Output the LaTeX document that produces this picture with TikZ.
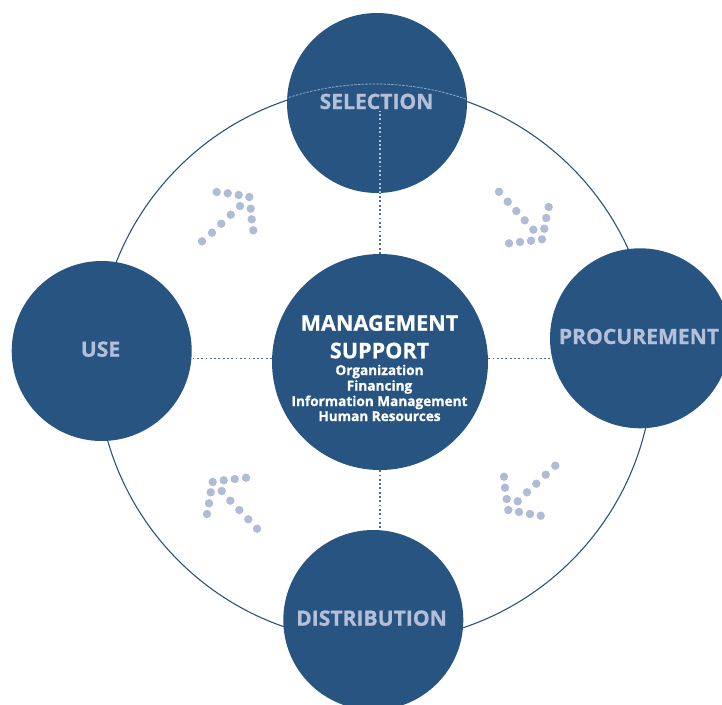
\documentclass[tikz,border=0pt]{standalone}
\usepackage{fontspec}
\setmainfont{Open Sans}[BoldFeatures={FakeBold=0.8}]
\definecolor{navy}{RGB}{39,84,128}
\definecolor{pale}{RGB}{180,192,218}
\definecolor{dotc}{RGB}{176,188,214}
\tikzset{
  phase/.style={circle, fill=navy, minimum size=180pt, inner sep=0pt},
  hub/.style={circle, fill=navy, minimum size=216pt, inner sep=0pt},
  ring/.style={circle, draw=navy, line width=1.1pt, minimum size=556pt, inner sep=0pt},
  dotline/.style={navy!85, line width=1.3pt, dash pattern=on 1.8pt off 2.5pt},
  lbl/.style={text=pale, font=\fontsize{21.1}{24}\selectfont\bfseries, inner sep=0pt, anchor=base},
  big/.style={text=white, font=\fontsize{21.6}{24}\selectfont\bfseries, inner sep=0pt, anchor=base},
  small/.style={text=white, font=\fontsize{13.6}{15}\selectfont\bfseries, inner sep=0pt, anchor=base},
  dotpt/.style={fill=dotc},
}
\begin{document}
\begin{tikzpicture}[x=1pt,y=-1pt]
\useasboundingbox (0,0) rectangle (722,704);
\clip (0,0) rectangle (722,704);
% ring
\node[ring] (ring) at (375,364) {};
% phase circles
\node[phase] (sel) at (377,103) {};
\node[phase] (use) at (101.7,351) {};
\node[phase] (proc) at (640,338.3) {};
\node[phase] (dist) at (373.3,620) {};
\node[hub] (mgmt) at (380,362) {};
% faint ring inside selection
\begin{scope}
  \clip (sel.center) circle (90);
  \draw[pale!80!navy, line width=0.8pt, dash pattern=on 2.5pt off 1.2pt] (ring.center) circle (280);
\end{scope}
% dotted connectors
\coordinate (selin) at (380,111);
\draw[dotline] (mgmt.north) -- (mgmt.north |- sel.south);
\draw[dotline, draw=pale] (mgmt.north |- sel.south) -- (selin);
\draw[dotline] (mgmt.south) -- (mgmt.south |- dist.north);
\draw[dotline] (mgmt.west |- 0,358.5) -- (use.east |- 0,358.5);
\draw[dotline] (mgmt.east |- 0,358.5) -- (proc.west |- 0,358.5);
% labels
\node[lbl] (tsel) at (376.5,109) {SELECTION};
\node[lbl] (tuse) at (100.5,356.7) {USE};
\node[lbl] (tproc) at (639,344) {PROCUREMENT};
\node[lbl] (tdist) at (371.5,625.7) {DISTRIBUTION};
\node[big] (t1) at (379.5,330.7) {MANAGEMENT};
\node[big] (t2) at (379.5,358.3) {SUPPORT};
\node[small] (s1) at (379.5,375) {Organization};
\node[small] (s2) at (379.5,390.5) {Financing};
\node[small] (s3) at (379.5,406) {Information Management};
\node[small] (s4) at (379.5,421) {Human Resources};
% dotted arrows
\foreach \p in {(216.7,192),(227.7,193.3),(238.7,195),(249.3,197),(240,206),(250.7,208.7),(230.7,214.7),(221.3,223.7),(212,232.7),(202,241.3),(251.7,219.3),(253.3,230.3)}
  \fill[dotpt] \p circle (4.2);
\foreach \p in {(499,191.7),(507.7,201.7),(516.3,211),(524.7,220.3),(533.3,229.7),(509,243.3),(520,242),(531,240.7),(542,239.3),(548.7,207),(546.3,218),(544.3,228.7)}
  \fill[dotpt] \p circle (4.2);
\foreach \p in {(555.3,465.7),(545.7,474.7),(536.3,483.7),(527,492.3),(517.7,501.3),(504,476.7),(505,487.7),(506.7,499),(508.3,510),(519,512),(530,514),(540.7,515.7)}
  \fill[dotpt] \p circle (4.2);
\foreach \p in {(212.7,482),(223.7,480.3),(234.7,479),(246,477.7),(210.7,492.3),(209,503.3),(207,514),(221.7,491),(230.3,500.7),(239.3,510),(248.3,519.3),(257,528.7)}
  \fill[dotpt] \p circle (4.2);
\end{tikzpicture}
\end{document}
